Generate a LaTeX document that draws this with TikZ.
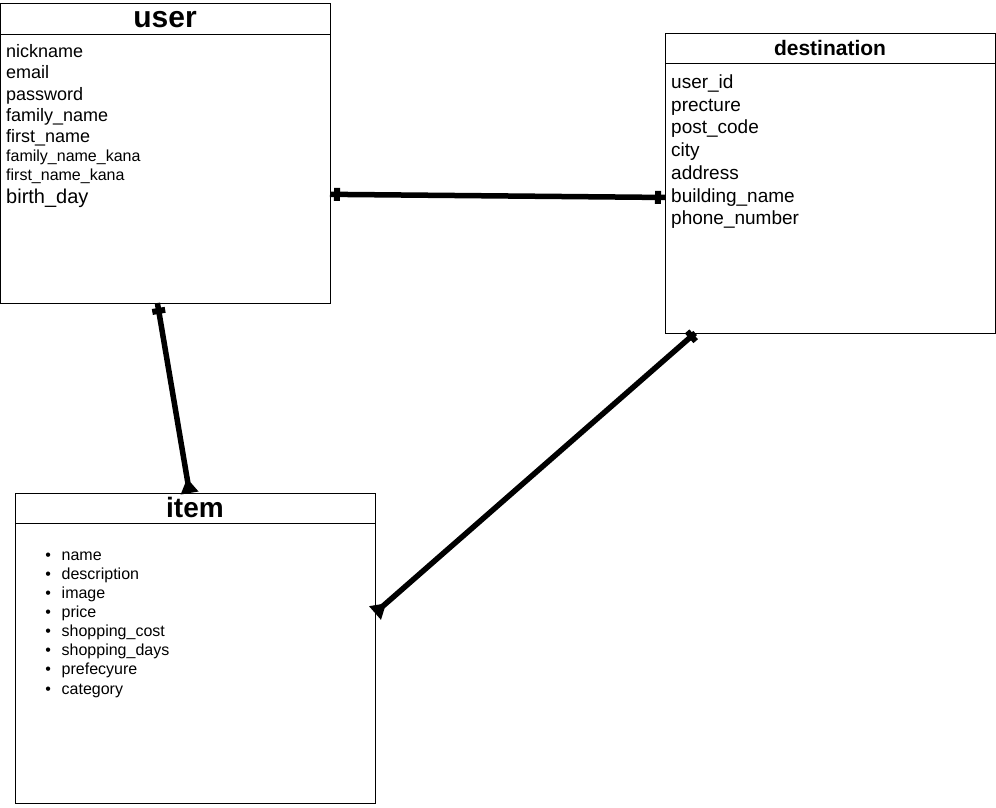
\documentclass[tikz,border=0pt]{standalone}
\usepackage{fontspec}
\setmainfont{Liberation Sans}
\usetikzlibrary{arrows.meta}
\usetikzlibrary{decorations.markings}
\usetikzlibrary{positioning}
\tikzset{entity/.style = {draw, line width=1pt, inner sep=0, outer sep=0}}
\tikzset{title/.style = {anchor=base, inner sep=0, font=\bfseries}}
\tikzset{field/.style = {anchor=base west, inner sep=0}}
\tikzset{link/.style = {line width=5.5pt}}
\tikzset{onebar/.style = {postaction={decorate, decoration={markings,
                                  mark=at position #1 with {\fill (-3pt,-6.5pt) rectangle (3pt,6.5pt);}}}}}
\tikzset{many/.style = {-{Triangle[reversed, length=15pt, width=17pt]}}}

\begin{document}
\begin{tikzpicture}[x=1pt, y=-1pt]
    \useasboundingbox (0,0) rectangle (996,807);

    \node [entity, minimum width=329.5, minimum height=299.5] (user) at (165.25,153.25) {};
    \draw [line width=1pt] ([yshift=-31pt]user.north west) -- ([yshift=-31pt]user.north east);
    \node [title] (usertitle) at (165,27) {\fontsize{30}{32}\selectfont user};
    \foreach \t/\s/\y [count=\i] in {nickname/18/57, email/18/78.5, password/18/100,
        family\_name/18/121, first\_name/18/142, family\_name\_kana/16/161,
        first\_name\_kana/16/180, birth\_day/20/203}
        \node [field] (u\i) at (6,\y) {\fontsize{\s}{\s}\selectfont \t};

    \node [entity, minimum width=330.5, minimum height=300] (destination) at (830.25,183) {};
    \draw [line width=1pt] ([yshift=-30pt]destination.north west) -- ([yshift=-30pt]destination.north east);
    \node [title] (desttitle) at (830,55) {\fontsize{21}{23}\selectfont destination};
    \foreach \t [count=\i] in {user\_id, precture, post\_code, city, address,
        building\_name, phone\_number}
        \node [field] (d\i) at (671,88.5+22.7*\i-22.7) {\fontsize{19}{19}\selectfont \t};

    \node [entity, minimum width=360, minimum height=310] (item) at (195,648) {};
    \draw [line width=1pt] ([yshift=-30pt]item.north west) -- ([yshift=-30pt]item.north east);
    \node [title] (itemtitle) at (195,517) {\fontsize{28}{30}\selectfont item};
    \foreach \t [count=\i] in {name, description, image, price, shopping\_cost,
        shopping\_days, prefecyure, category} {
        \node [anchor=base, inner sep=0] (b\i) at (48.3,560+19.15*\i-19.15) {\fontsize{16}{16}\selectfont\textbullet};
        \node [field] (i\i) at (61.5,560+19.15*\i-19.15) {\fontsize{16}{16}\selectfont \t};
    }

    \draw [link, onebar=7pt, onebar=-7pt] (user.-14.6) -- (destination.185.2);
    \draw [link, onebar=8pt, many] (user.-93.5) -- (item.92.2);
    \draw [link, onebar=5pt, many] (destination.228.8) -- (item.11.6);
\end{tikzpicture}
\end{document}
